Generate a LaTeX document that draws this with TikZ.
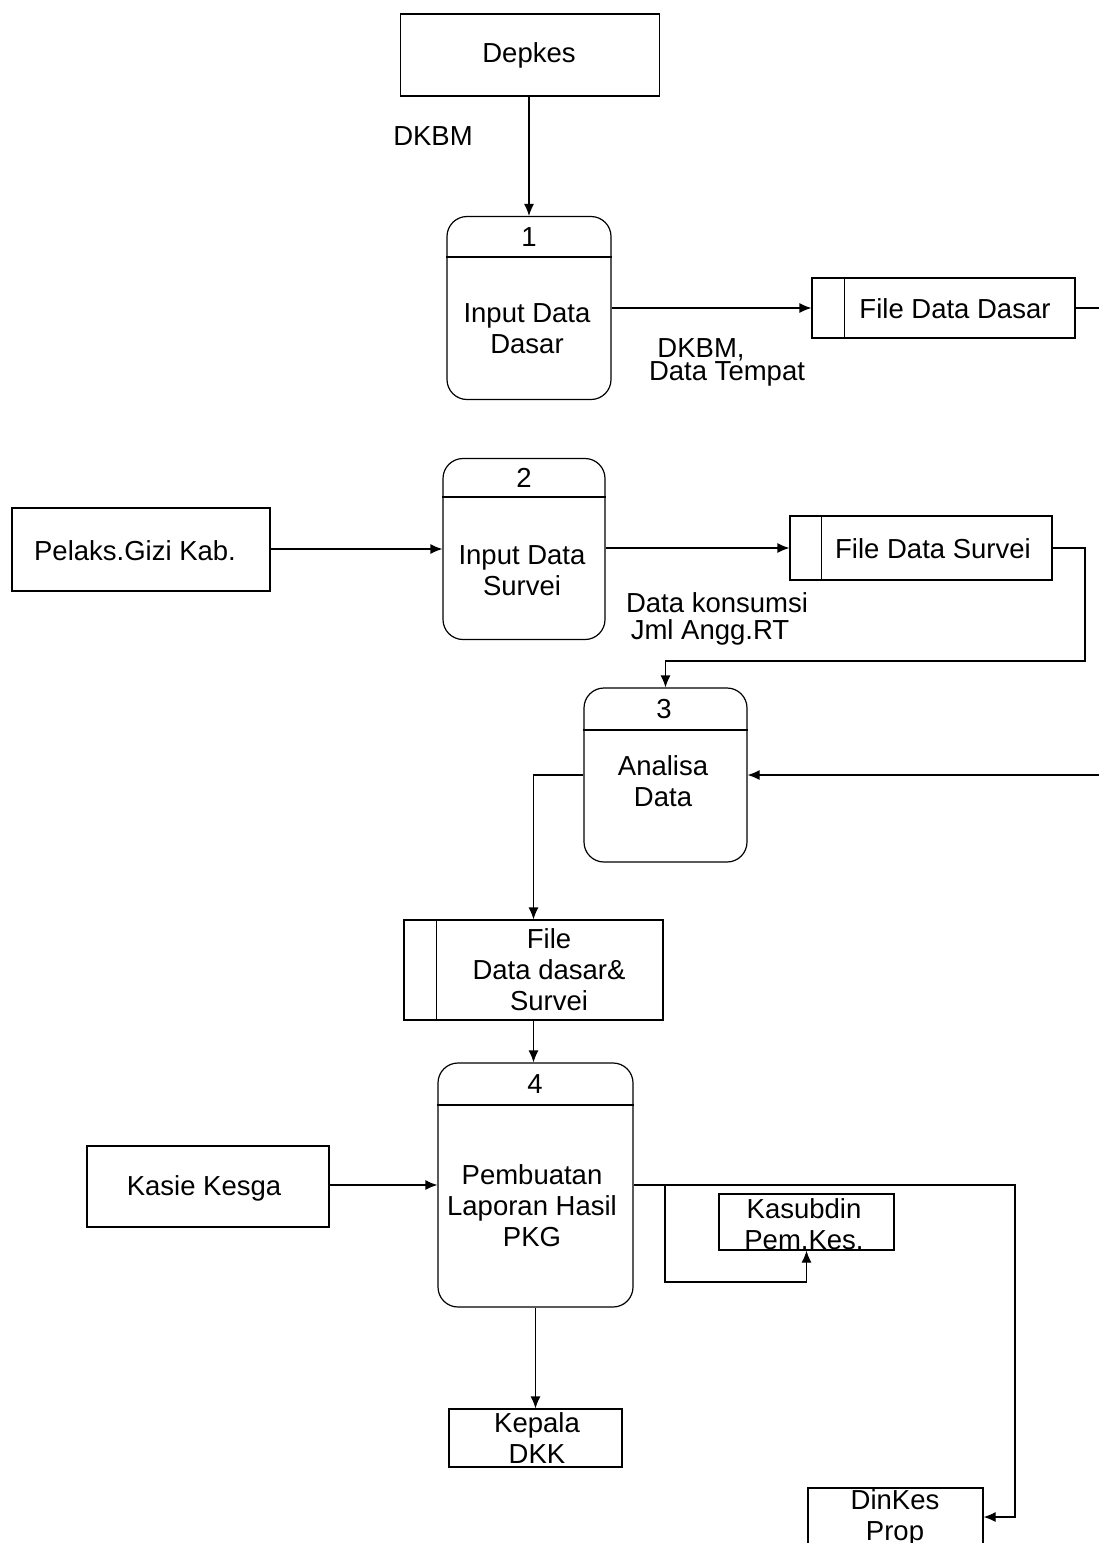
\documentclass[tikz,border=0pt]{standalone}
\usepackage{fontspec}
\setmainfont{Liberation Sans}
\usetikzlibrary{arrows.meta}
\begin{document}
\begin{tikzpicture}[x=1pt,y=-1pt,
  every node/.style={font=\fontsize{27.5}{31}\selectfont, inner sep=0pt, align=center},
  ent/.style={draw, line width=1.2pt, rectangle},
  store/.style={draw, line width=1.2pt, rectangle},
  proc/.style={draw, line width=1.2pt, rounded corners=20pt},
  wire/.style={line width=1.2pt},
  flow/.style={line width=1.2pt, -{Latex[length=12pt,width=10pt]}}]
\useasboundingbox (0,0) rectangle (1099,1543);
\clip (0,0) rectangle (1099,1543);

% external entities
\node[ent, minimum width=259pt, minimum height=82pt] (depkes) at (530,55) {};
\node (depkestxt) at (529,55) {Depkes};
\node[ent, minimum width=258pt, minimum height=83pt] (pel) at (141,549.5) {};
\node (peltxt) at (135,551) {Pelaks.Gizi Kab.};
\node[ent, minimum width=242pt, minimum height=81pt] (kasie) at (208,1186.5) {};
\node (kasietxt) at (204,1188) {Kasie Kesga};
\node[ent, minimum width=175pt, minimum height=56pt] (kasub) at (806.5,1222) {};
\node (kasubtxt) at (804,1224) {Kasubdin\\Pem.Kes.};
\node[ent, minimum width=173pt, minimum height=58pt] (kepala) at (535.5,1438) {};
\node (kepalatxt) at (537,1438) {Kepala\\DKK};
\node[ent, minimum width=175pt, minimum height=58pt] (dinkes) at (895.5,1517) {};
\node (dinkestxt) at (895,1518) {DinKes\\Prop};

% processes
\node[proc, minimum width=164pt, minimum height=183pt] (p1) at (529,308) {};
\draw[wire] (p1.west |- 0,257) -- (p1.east |- 0,257);
\node (p1num) at (529,237) {1};
\node (p1txt) at (527,329) {Input Data\\Dasar};

\node[proc, minimum width=162pt, minimum height=181pt] (p2) at (524,549) {};
\draw[wire] (p2.west |- 0,497) -- (p2.east |- 0,497);
\node (p2num) at (524,478) {2};
\node (p2txt) at (522,571) {Input Data\\Survei};

\node[proc, minimum width=163pt, minimum height=174pt] (p3) at (665.5,775) {};
\draw[wire] (p3.west |- 0,730) -- (p3.east |- 0,730);
\node (p3num) at (664,709) {3};
\node (p3txt) at (663,781) {Analisa\\Data};

\node[proc, minimum width=195pt, minimum height=244pt] (p4) at (535.5,1185) {};
\draw[wire] (p4.west |- 0,1105) -- (p4.east |- 0,1105);
\node (p4num) at (535,1084) {4};
\node (p4txt) at (532,1206) {Pembuatan\\Laporan Hasil\\PKG};

% data stores
\node[store, minimum width=263pt, minimum height=60pt] (fdd) at (943.5,308) {};
\draw[wire] ([xshift=33pt]fdd.north west) -- ([xshift=33pt]fdd.south west);
\node (fddtxt) at (955,309) {File Data Dasar};

\node[store, minimum width=262pt, minimum height=64pt] (fds) at (921,548) {};
\draw[wire] ([xshift=32pt]fds.north west) -- ([xshift=32pt]fds.south west);
\node (fdstxt) at (933,549) {File Data Survei};

\node[store, minimum width=259pt, minimum height=100pt] (fdds) at (533.5,970) {};
\draw[wire] ([xshift=33pt]fdds.north west) -- ([xshift=33pt]fdds.south west);
\node (fddstxt) at (549,970) {File\\Data dasar\&\\Survei};

% flow labels
\node (lbl1) at (433,136) {DKBM};
\node (lbl2) at (701,350) {DKBM,};
\node (lbl3) at (727,374) {Data Tempat};
\node (lbl4) at (717,603) {Data konsumsi};
\node (lbl5) at (710,632) {Jml Angg.RT};

% bend points
\coordinate (c1) at (1085,661);
\coordinate (c2) at (1015,1300);
\coordinate (br) at (665,1185);
\coordinate (c3) at (806.5,1282);

% data flows
\draw[flow] (depkes.south -| p1.north) -- (p1.north);
\draw[flow] (p1.east) -- (fdd.west);
\draw[flow] (fdd.east) -- (1130,308) |- (p3.east);
\draw[flow] (pel.east |- p2.west) -- (p2.west);
\draw[flow] (p2.east |- fds.west) -- (fds.west);
\draw[flow] (fds.east) -| (c1) -| (p3.north);
\draw[flow] (p3.west) -| (fdds.north);
\draw[flow] (fdds.south) -- (fdds.south |- p4.north);
\draw[flow] (kasie.east |- p4.west) -- (p4.west);
\draw[flow] (p4.east) -| (c2) |- (dinkes.east);
\draw[flow] (br) |- (c3) -- (kasub.south);
\draw[flow] (p4.south -| kepala.north) -- (kepala.north);
\end{tikzpicture}
\end{document}
